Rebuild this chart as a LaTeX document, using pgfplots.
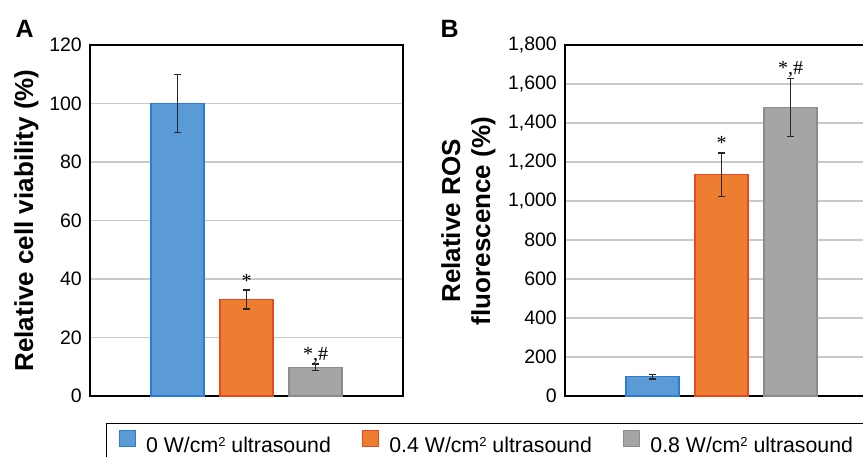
\documentclass[border=0pt]{standalone}
\usepackage{fontspec}
\setmainfont{Liberation Sans}
\newfontfamily\seriff{Liberation Serif}
\usepackage{pgfplots}
\pgfplotsset{compat=1.18}
\definecolor{blueF}{HTML}{5B9BD5}
\definecolor{blueE}{HTML}{2E7BD6}
\definecolor{orF}{HTML}{ED7D31}
\definecolor{orE}{HTML}{E8481E}
\definecolor{grF}{HTML}{A5A5A5}
\definecolor{grE}{HTML}{8C8C8C}
\definecolor{gridc}{HTML}{C9C9C9}
\definecolor{errc}{HTML}{262626}
\pgfplotsset{
  layers/mine/.define layer set={axis background,axis grid,pre main,main,axis ticks,axis lines,axis tick labels,axis descriptions,axis foreground}{},
  mybar/.style={ybar, bar width=53pt, bar shift=0pt, line width=1.2pt,
    error bars/y dir=both, error bars/y explicit,
    error bars/error bar style={errc, line width=1.4pt},
    error bars/error mark options={errc, rotate=90, mark size=3.8pt, line width=1.4pt}},
  halo/.style={ybar, bar width=53pt, bar shift=0pt, fill=white, draw=white, line width=6pt, on layer=pre main, forget plot},
  sq legend/.style={legend image code/.code={\draw[##1] (0pt,-1pt) rectangle (16.5pt,15.5pt);}},
  base/.style={set layers=mine, scale only axis, width=313pt, height=351pt,
    xmin=-1.268, xmax=3.268, xtick=\empty, ymin=0,
    axis line style={black, line width=1.4pt},
    ymajorgrids, grid style={gridc, line width=1.3pt},
    major tick length=0pt,
    /pgf/number format/assume math mode=true,
    yticklabel style={font=\fontsize{19.5}{20}\selectfont, inner sep=0pt, xshift=-8pt}},
}
\newcommand{\ann}{\seriff\fontsize{20}{20}\selectfont}
\newcommand{\sq}{\raisebox{6pt}{\fontsize{13}{13}\selectfont 2}}
\begin{document}
\begin{tikzpicture}
\begin{axis}[base, name=A, at={(90pt,-396pt)}, anchor=south west,
  ymax=120, ytick={0,20,...,120},
  legend columns=3, legend cell align=left,
  legend style={at={(0.0511,-0.0769)}, anchor=north west, draw=black, line width=1.2pt,
    inner xsep=12pt, inner ysep=6pt, font=\fontsize{21.3}{22}\selectfont,
    nodes={inner sep=0pt},
    /tikz/every odd column/.append style={column sep=10pt},
    /tikz/every even column/.append style={column sep=31pt}}]
\addplot[halo] coordinates {(0,100) (1,33) (2,9.8)};
\addplot[mybar, fill=blueF, draw=blueE, forget plot] coordinates {(0,100) +- (0,10)};
\addplot[mybar, fill=orF, draw=orE, forget plot] coordinates {(1,33) +- (0,3.2)};
\addplot[mybar, fill=grF, draw=grE, forget plot] coordinates {(2,9.8) +- (0,1.1)};
\addlegendimage{sq legend, fill=blueF, draw=blueE, line width=1pt}
\addlegendentry{0 W/cm\sq{} ultrasound}
\addlegendimage{sq legend, fill=orF, draw=orE, line width=1pt}
\addlegendentry{0.4 W/cm\sq{} ultrasound}
\addlegendimage{sq legend, fill=grF, draw=grE, line width=1pt}
\addlegendentry{0.8 W/cm\sq{} ultrasound}
\node[anchor=base, font=\ann, yshift=3pt] at (axis cs:1,36.2) {*};
\node[anchor=base, font=\ann, yshift=4pt] at (axis cs:2,10.9) {*,\#};
\end{axis}
\begin{axis}[base, name=B, at={(565pt,-396pt)}, anchor=south west,
  ymax=1800, ytick={0,200,...,1800}, scaled y ticks=false,
  /pgf/number format/1000 sep={,}]
\addplot[halo] coordinates {(0,98) (1,1135) (2,1480)};
\addplot[mybar, fill=blueF, draw=blueE, forget plot] coordinates {(0,98) +- (0,11)};
\addplot[mybar, fill=orF, draw=orE, forget plot] coordinates {(1,1135) +- (0,112)};
\addplot[mybar, fill=grF, draw=grE, forget plot] coordinates {(2,1480) +- (0,148)};
\node[anchor=base, font=\ann, yshift=3pt] at (axis cs:1,1247) {*};
\node[anchor=base, font=\ann, yshift=4pt] at (axis cs:2,1628) {*,\#};
\end{axis}
\node[rotate=90, anchor=base, font=\bfseries\fontsize{26}{26}\selectfont] at (33pt,-220.5pt) {Relative cell viability (\%)};
\node[rotate=90, anchor=base, font=\bfseries\fontsize{26}{26}\selectfont] at (460pt,-221pt) {Relative ROS};
\node[rotate=90, anchor=base, font=\bfseries\fontsize{26}{26}\selectfont] at (490pt,-221pt) {fluorescence (\%)};
\node[anchor=base west, font=\bfseries\fontsize{25}{25}\selectfont] at (12pt,-37pt) {A};
\node[anchor=base west, font=\bfseries\fontsize{25}{25}\selectfont] at (437pt,-37pt) {B};
\pgfresetboundingbox
\useasboundingbox (0pt,0pt) rectangle (863pt,-456pt);
\end{tikzpicture}
\end{document}
